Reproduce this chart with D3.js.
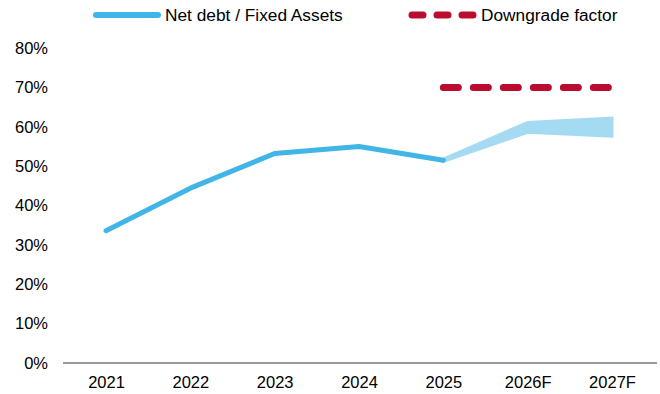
<!DOCTYPE html>
<html><head><meta charset="utf-8">
<script src="https://cdn.jsdelivr.net/npm/d3@7"></script>
<style>
html,body{margin:0;padding:0;background:#fff;}
svg{display:block;font-family:"Liberation Sans",Arial,sans-serif;}
</style></head>
<body><svg id="c" width="660" height="394"></svg>
<script>
const categories = ["2021","2022","2023","2024","2025","2026F","2027F"];
const netDebt = [33.6, 44.4, 53.2, 55.0, 51.5];
const forecastCats = ["2025","2026F","2027F"];
const forecastLow = [51.2, 58.6, 57.6];
const forecastHigh = [51.8, 61.1, 62.2];
const downgradeCats = ["2025","2026F","2027F"];
const downgradeValues = [70, 70, 70];
const yTicks = [0,10,20,30,40,50,60,70,80];
const legendLabels = ["Net debt / Fixed Assets","Downgrade factor"];

const svg = d3.select("#c");
const blue = "#41b6e6", light = "#a4dbf3", red = "#ba0c2f";
const x = d3.scalePoint().domain(categories).range([106, 612]);
const y = d3.scaleLinear().domain([0,80]).range([363, 48]);

// y tick labels
svg.append("g").selectAll("text").data(yTicks).join("text")
  .attr("x", 48).attr("y", d => y(d)).attr("dy", "0.35em")
  .attr("text-anchor","end").attr("font-size", 16.5).attr("fill","#000")
  .text(d => d + "%");

// x axis
const xa = svg.append("g").attr("transform","translate(0,363)")
  .call(d3.axisBottom(x).tickSize(0).tickPadding(13));
xa.select(".domain").remove();
xa.selectAll("text").attr("font-size",16.5).attr("fill","#000").attr("font-family","Liberation Sans, Arial, sans-serif");
svg.append("line").attr("x1",63).attr("x2",657).attr("y1",y(0)).attr("y2",y(0))
  .attr("stroke","#999").attr("stroke-width",2);

// forecast band
const band = forecastCats.map((c,i)=>({c, lo:forecastLow[i], hi:forecastHigh[i]}));
svg.append("path").datum(band)
  .attr("d", d3.area().x(d=>x(d.c)).y0(d=>y(d.lo)).y1(d=>y(d.hi)))
  .attr("fill", light).attr("stroke", light).attr("stroke-width", 3).attr("stroke-linejoin","miter");

// main line
const main = netDebt.map((v,i)=>({c:categories[i], v}));
svg.append("path").datum(main)
  .attr("d", d3.line().x(d=>x(d.c)).y(d=>y(d.v)))
  .attr("fill","none").attr("stroke",blue).attr("stroke-width",5)
  .attr("stroke-linecap","round").attr("stroke-linejoin","round");

// downgrade factor
const dg = downgradeCats.map((c,i)=>({c, v:downgradeValues[i]}));
svg.append("path").datum(dg)
  .attr("d", d3.line().x(d=>x(d.c)).y(d=>y(d.v)))
  .attr("fill","none").attr("stroke",red).attr("stroke-width",7)
  .attr("stroke-linecap","round").attr("stroke-dasharray","15,15");

// legend
const lg = svg.append("g");
lg.append("line").attr("x1",96).attr("x2",158).attr("y1",15).attr("y2",15)
  .attr("stroke",blue).attr("stroke-width",6).attr("stroke-linecap","round");
lg.append("text").attr("x",165).attr("y",15).attr("dy","0.35em").attr("font-size",17.3).text(legendLabels[0]);
lg.append("line").attr("x1",412).attr("x2",474).attr("y1",15).attr("y2",15)
  .attr("stroke",red).attr("stroke-width",7).attr("stroke-linecap","round").attr("stroke-dasharray","11,14");
lg.append("text").attr("x",481).attr("y",15).attr("dy","0.35em").attr("font-size",17.3).text(legendLabels[1]);
</script></body></html>
